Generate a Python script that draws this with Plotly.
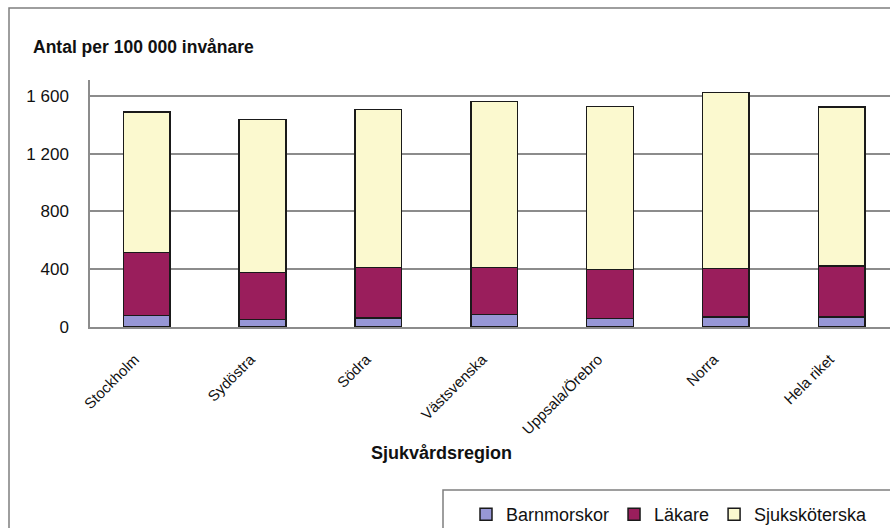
import plotly.graph_objects as go

# Healthcare staff per 100 000 inhabitants, by healthcare region
regions = ["Stockholm", "Sydöstra", "Södra", "Västsvenska", "Uppsala/Örebro", "Norra", "Hela riket"]
barnmorskor = [81, 53, 62, 86, 58, 69, 69]
lakare = [435, 326, 350, 326, 340, 336, 354]
sjukskoterska = [974, 1058, 1095, 1150, 1127, 1219, 1099]

y_ticks = [0, 400, 800, 1200, 1600]
y_tick_text = ["0", "400", "800", "1 200", "1 600"]

W, H = 890, 528
M_L, M_R, M_T, M_B = 90, 0, 80, 201
FONT = "Liberation Sans, Arial, sans-serif"
EDGE = "#1a1a1a"
GRID = "#8c8c8c"


def px_x(px):
    return (px - M_L) / (W - M_L - M_R)


def px_y(py):
    return (H - M_B - py) / (H - M_T - M_B)


fig = go.Figure()
series = [
    ("Barnmorskor", barnmorskor, "#9797d6"),
    ("Läkare", lakare, "#9a1e5c"),
    ("Sjuksköterska", sjukskoterska, "#fbf9cf"),
]
for name, vals, color in series:
    fig.add_trace(go.Bar(
        name=name, x=regions, y=vals, width=0.403,
        marker=dict(color=color, line=dict(color=EDGE, width=1.5)),
    ))

fig.update_layout(
    width=W, height=H, barmode="stack",
    margin=dict(l=M_L, r=M_R, t=M_T, b=M_B, autoexpand=False),
    paper_bgcolor="white", plot_bgcolor="white",
    font=dict(family=FONT, size=17, color="#111111"),
    showlegend=True,
    legend=dict(
        orientation="h", x=px_x(466), xanchor="left",
        y=px_y(496), yanchor="top",
        bgcolor="rgba(0,0,0,0)", borderwidth=0,
        font=dict(family=FONT, size=18, color="#111111"),
        traceorder="normal",
    ),
)

fig.update_xaxes(
    range=[-0.49, 6.417], tickangle=-45, ticks="", showgrid=False,
    showline=True, linecolor=GRID, linewidth=1.5,
    tickfont=dict(family=FONT, size=15, color="#111111"),
    ticklabelstandoff=16, ticklabelshift=-12,
)
fig.update_yaxes(
    range=[0, 1710], tickvals=y_ticks, ticktext=y_tick_text,
    showgrid=True, gridcolor=GRID, gridwidth=1.5,
    showline=True, linecolor=GRID, linewidth=1.5, ticks="",
    zeroline=False, tickfont=dict(family=FONT, size=17), ticklabelstandoff=16,
)

# Outer chart frame and legend box
fig.add_shape(type="rect", xref="paper", yref="paper",
              x0=px_x(9), x1=px_x(900), y0=px_y(540), y1=px_y(8),
              line=dict(color="#7f7f7f", width=1.5), layer="below")
fig.add_shape(type="rect", xref="paper", yref="paper",
              x0=px_x(443), x1=px_x(900), y0=px_y(540), y1=px_y(490),
              line=dict(color="#7f7f7f", width=1.5), layer="below")

fig.add_annotation(text="<b>Antal per 100 000 invånare</b>", xref="paper", yref="paper",
                   x=px_x(31), y=px_y(47), xanchor="left", yanchor="middle",
                   showarrow=False, font=dict(family=FONT, size=17.5, color="#111111"))
fig.add_annotation(text="<b>Sjukvårdsregion</b>", xref="paper", yref="paper",
                   x=px_x(441), y=px_y(453), xanchor="center", yanchor="middle",
                   showarrow=False, font=dict(family=FONT, size=18, color="#111111"))

fig.write_html("out.html")
